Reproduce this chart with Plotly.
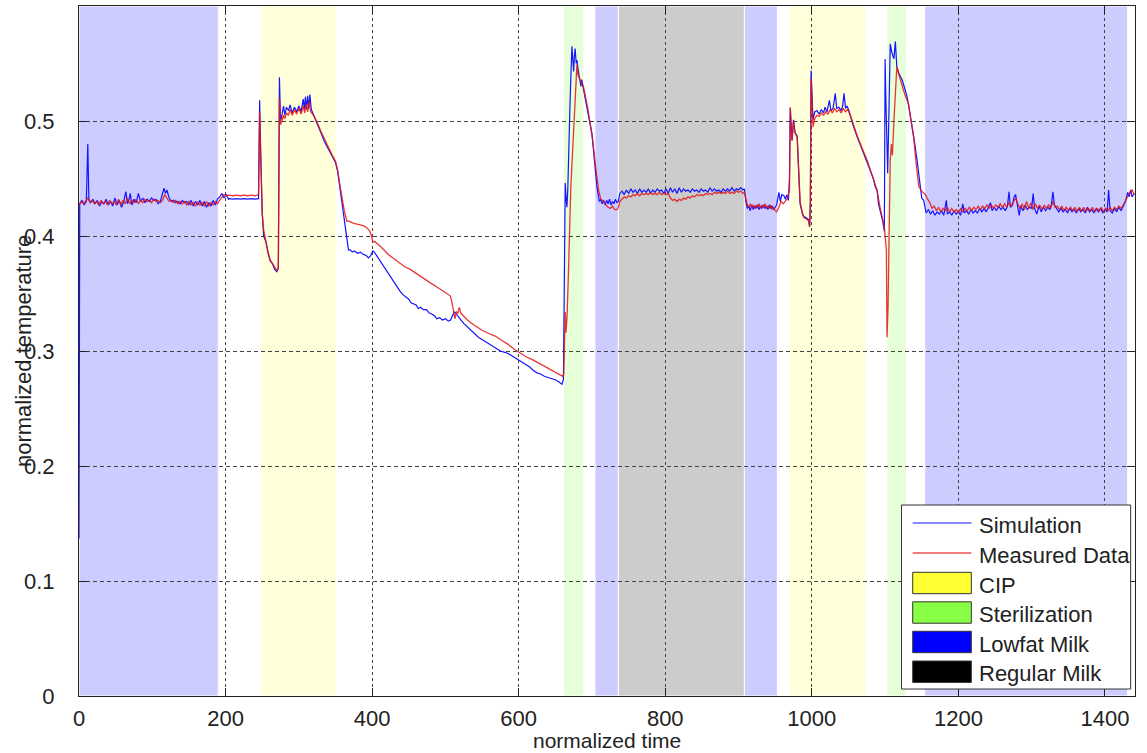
import plotly.graph_objects as go

# ---------------- data ----------------
sim_x = [0, 1, 4, 7, 10, 12, 13.5, 16, 19, 22, 25, 28, 31, 34, 37, 40, 43, 46, 49, 52, 55, 58, 61, 64, 66, 68, 70, 72, 75, 78, 81, 84, 87, 90, 93, 96, 99, 102, 105, 108, 111, 114, 116, 118, 120, 123, 126, 129, 132, 135, 138, 141, 144, 147, 150, 153, 156, 159, 162, 165, 168, 171, 174, 177, 180, 183, 186, 189, 192, 195, 198, 201, 204,
         205, 210, 215, 220, 225, 230, 235, 240, 245,
         246.5, 248, 250, 252, 255, 258, 261, 264, 267, 270, 272, 273.5, 275, 277, 279, 281, 283, 286, 288, 291, 294, 297, 300, 303, 306, 307.5, 309, 310.5, 312, 313.5, 315, 317, 320, 325, 330, 335, 340, 345, 350, 353, 356, 359, 362, 365, 367.7, 370, 373, 376, 380, 384, 388, 392, 395, 398, 401, 403, 407, 411, 415, 420, 425, 430, 435, 438, 442, 446, 450, 453, 456, 460, 463, 466, 470, 474, 478, 482, 486, 488, 492, 496, 500, 504, 507, 510, 512, 514, 516, 520, 525, 530, 535, 540, 545, 550, 555, 560, 565, 570, 575, 580, 585, 590, 595, 600, 605, 610, 615, 620, 625, 630, 635, 640, 645, 650, 655, 659,
         661, 662.5, 663.5, 665, 665.8, 667, 668, 669, 670.3, 671.5, 672.6, 674, 675, 676, 677, 678.5, 679.5, 681, 683, 685, 686, 688, 690, 693, 696, 700, 703, 706.7, 710, 712, 714, 716, 718, 720, 722, 724, 726, 728, 730, 732, 734, 736,
         738, 741, 744, 747, 750, 753, 756, 759, 762, 765, 768, 771, 774, 777, 780, 783, 786, 789, 792, 795, 798, 801, 804, 807, 810, 813, 816, 819, 822, 825, 828, 831, 834, 837, 840, 843, 846, 849, 852, 855, 858, 861, 864, 867, 870, 873, 876, 879, 882, 885, 888, 891, 894, 897, 900, 903, 906, 908,
         910, 912, 914, 916, 918, 920, 922, 924, 926, 928, 930, 932, 934, 936, 938, 940, 942, 944, 946, 948, 950, 952, 955, 957, 959, 962, 964, 966, 968,
         969.5, 970.6, 972, 973, 975, 977, 980, 982, 984, 987, 989, 992, 995.7, 997, 998, 999, 1000.5, 1001.6, 1004, 1007, 1010, 1013, 1016, 1018, 1020.7, 1022, 1024, 1026, 1029, 1032, 1034, 1037, 1040, 1042, 1044, 1046, 1048, 1050, 1053, 1057, 1062, 1067, 1072, 1075, 1080, 1084, 1087, 1089, 1091, 1093, 1095, 1097, 1099,
         1100, 1101, 1103.5, 1105, 1107, 1109, 1112, 1114, 1116, 1119, 1123, 1126, 1130, 1133, 1137, 1140, 1143.6, 1146, 1148, 1150, 1152.6, 1154, 1156, 1159,
         1162, 1165, 1168, 1171, 1174, 1177, 1180, 1183.6, 1185, 1188, 1191, 1194, 1197, 1200, 1203, 1206, 1208, 1211, 1214, 1217, 1220, 1223, 1226, 1229, 1232, 1235, 1238, 1241, 1243.7, 1246, 1249, 1252, 1255, 1258, 1261, 1264, 1267, 1269, 1271, 1274, 1276, 1278, 1280, 1283, 1285, 1288, 1291, 1294, 1297, 1300, 1302, 1304, 1307, 1310, 1313, 1316, 1319, 1322, 1325, 1327, 1329, 1331, 1334, 1337, 1340, 1343, 1346, 1349, 1352, 1355, 1358, 1361, 1364, 1367, 1370, 1373, 1376, 1379, 1382, 1385, 1388, 1391, 1394, 1397, 1400, 1403, 1405, 1407, 1410, 1413, 1416, 1419, 1422, 1425, 1428, 1431, 1433, 1435, 1437, 1440]
sim_y = [0.137, 0.428, 0.431, 0.427, 0.430, 0.480, 0.432, 0.429, 0.432, 0.428, 0.431, 0.426, 0.430, 0.428, 0.432, 0.427, 0.430, 0.426, 0.433, 0.427, 0.431, 0.425, 0.430, 0.4385, 0.428, 0.431, 0.437, 0.427, 0.432, 0.429, 0.437, 0.430, 0.433, 0.429, 0.432, 0.430, 0.433, 0.431, 0.432, 0.428, 0.430, 0.436, 0.4415, 0.437, 0.440, 0.433, 0.430, 0.431, 0.429, 0.430, 0.428, 0.431, 0.429, 0.430, 0.427, 0.431, 0.426, 0.430, 0.427, 0.431, 0.426, 0.430, 0.425, 0.429, 0.426, 0.431, 0.427, 0.432, 0.434, 0.437, 0.433, 0.436, 0.432,
         0.4325, 0.432, 0.4325, 0.432, 0.4325, 0.432, 0.4325, 0.432, 0.4325,
         0.518, 0.47, 0.42, 0.40, 0.395, 0.385, 0.378, 0.376, 0.371, 0.369, 0.372, 0.538, 0.50, 0.505, 0.513, 0.505, 0.512, 0.509, 0.514, 0.507, 0.512, 0.508, 0.513, 0.508, 0.519, 0.510, 0.521, 0.510, 0.522, 0.511, 0.523, 0.510, 0.505, 0.498, 0.490, 0.482, 0.476, 0.470, 0.464, 0.456, 0.443, 0.428, 0.416, 0.400, 0.388, 0.388, 0.386, 0.387, 0.385, 0.386, 0.384, 0.383, 0.381, 0.383, 0.387, 0.386, 0.382, 0.378, 0.374, 0.369, 0.364, 0.360, 0.355, 0.352, 0.349, 0.347, 0.345, 0.342, 0.341, 0.340, 0.337, 0.338, 0.336, 0.336, 0.333, 0.332, 0.330, 0.328, 0.329, 0.327, 0.328, 0.326, 0.327, 0.331, 0.334, 0.333, 0.331, 0.328, 0.324, 0.321, 0.318, 0.315, 0.312, 0.310, 0.308, 0.306, 0.304, 0.302, 0.300, 0.299, 0.298, 0.296, 0.294, 0.292, 0.290, 0.288, 0.286, 0.283, 0.281, 0.280, 0.278, 0.277, 0.276, 0.275, 0.273, 0.271,
         0.275, 0.40, 0.446, 0.43, 0.425, 0.44, 0.457, 0.49, 0.521, 0.55, 0.565, 0.552, 0.543, 0.557, 0.563, 0.550, 0.553, 0.545, 0.536, 0.530, 0.536, 0.528, 0.522, 0.512, 0.502, 0.489, 0.468, 0.443, 0.430, 0.432, 0.428, 0.431, 0.427, 0.431, 0.428, 0.432, 0.427, 0.430, 0.428, 0.432, 0.429, 0.430,
         0.437, 0.439, 0.436, 0.440, 0.437, 0.441, 0.438, 0.440, 0.437, 0.441, 0.438, 0.440, 0.438, 0.441, 0.437, 0.440, 0.438, 0.441, 0.439, 0.440, 0.437, 0.441, 0.437, 0.442, 0.438, 0.441, 0.437, 0.442, 0.438, 0.441, 0.439, 0.440, 0.438, 0.441, 0.439, 0.440, 0.438, 0.441, 0.439, 0.440, 0.438, 0.442, 0.439, 0.441, 0.439, 0.440, 0.438, 0.441, 0.439, 0.441, 0.439, 0.442, 0.439, 0.441, 0.440, 0.442, 0.440, 0.441,
         0.430, 0.424, 0.426, 0.422, 0.427, 0.423, 0.426, 0.424, 0.427, 0.423, 0.426, 0.424, 0.427, 0.424, 0.426, 0.423, 0.427, 0.424, 0.426, 0.423, 0.425, 0.427, 0.438, 0.430, 0.436, 0.435, 0.432, 0.436, 0.431,
         0.45, 0.511, 0.495, 0.483, 0.501, 0.490, 0.487, 0.46, 0.428, 0.420, 0.417, 0.416, 0.414, 0.408, 0.43, 0.544, 0.52, 0.501, 0.508, 0.509, 0.506, 0.510, 0.507, 0.512, 0.508, 0.512, 0.518, 0.509, 0.511, 0.524, 0.511, 0.512, 0.509, 0.513, 0.524, 0.511, 0.513, 0.510, 0.503, 0.495, 0.486, 0.478, 0.470, 0.466, 0.457, 0.450, 0.442, 0.44, 0.428, 0.423, 0.418, 0.412, 0.404,
         0.554, 0.52, 0.4545, 0.50, 0.567, 0.560, 0.554, 0.569, 0.547, 0.541, 0.536, 0.530, 0.521, 0.510, 0.495, 0.482, 0.466, 0.452, 0.440, 0.433, 0.431, 0.425, 0.420, 0.423,
         0.419, 0.422, 0.418, 0.421, 0.419, 0.422, 0.418, 0.431, 0.419, 0.421, 0.418, 0.422, 0.419, 0.421, 0.418, 0.428, 0.420, 0.422, 0.419, 0.423, 0.420, 0.422, 0.420, 0.424, 0.421, 0.424, 0.421, 0.425, 0.429, 0.422, 0.425, 0.422, 0.426, 0.423, 0.425, 0.422, 0.426, 0.4385, 0.425, 0.427, 0.434, 0.436, 0.428, 0.418, 0.426, 0.422, 0.427, 0.423, 0.425, 0.424, 0.437, 0.424, 0.419, 0.426, 0.421, 0.425, 0.422, 0.425, 0.423, 0.428, 0.4385, 0.427, 0.424, 0.421, 0.424, 0.421, 0.423, 0.420, 0.424, 0.421, 0.423, 0.420, 0.424, 0.421, 0.423, 0.420, 0.425, 0.421, 0.423, 0.420, 0.424, 0.421, 0.424, 0.420, 0.423, 0.421, 0.440, 0.422, 0.420, 0.424, 0.421, 0.425, 0.422, 0.426, 0.430, 0.438, 0.434, 0.440, 0.434, 0.437]

meas_x = [0, 3, 6, 9, 12, 15, 18, 21, 24, 27, 30, 33, 36, 39, 42, 45, 48, 51, 54, 57, 60, 63, 66, 69, 72, 75, 78, 81, 84, 87, 90, 93, 96, 99, 102, 105, 108, 111, 114, 117, 120, 123, 126, 129, 132, 135, 138, 141, 144, 147, 150, 153, 156, 159, 162, 165, 168, 171, 174, 177, 180, 183, 186, 189, 192, 195, 198, 201, 205, 210, 215, 220, 225, 230, 235, 240, 245,
          246.5, 248, 250, 252, 255, 258, 261, 264, 267, 270, 272, 273.5, 275, 277, 279, 281, 283, 286, 288, 291, 294, 297, 300, 303, 306, 308, 310, 312, 314, 316, 320, 325, 330, 335, 340, 345, 350, 353, 356.3, 359, 362, 365.4, 368, 375, 382, 388, 393, 397, 399, 401, 404, 407, 411, 416, 422, 428, 434, 438, 445, 452, 461, 470, 480, 490, 500, 506.5, 508, 510, 511, 513, 515, 517, 519, 521, 525, 530, 538, 545, 550, 560, 568, 575, 585, 593, 600.7, 610, 620, 629, 640, 650, 660,
          661.5, 663, 663.5, 664.5, 666, 668, 669.5, 671, 672.5, 674, 675.5, 677, 678.5, 679.5, 681, 684, 686, 688, 690, 694, 697, 701, 705, 709, 712, 716, 719, 722, 725, 728, 731, 734, 736,
          738, 741, 744, 747, 750, 753, 756, 759, 762, 765, 768, 771, 774, 777, 780, 783, 786, 789, 792, 795, 798, 801, 804, 807, 810, 813, 816, 819, 822, 825, 828, 831, 834, 837, 840, 843, 846, 849, 852, 855, 858, 861, 864, 867, 870, 873, 876, 879, 882, 885, 888, 891, 894, 897, 900, 903, 906, 908,
          910, 912, 914, 916, 918, 920, 922, 924, 926, 928, 930, 932, 934, 936, 938, 940, 942, 944, 946, 948, 950, 952, 955, 958, 961, 964, 967,
          969.5, 970.6, 972, 973, 975, 977, 980, 982, 984, 987, 989, 992, 995.7, 997, 998, 999, 1000.5, 1001.6, 1004, 1007, 1010, 1013, 1016, 1019, 1022, 1025, 1028, 1031, 1034, 1037, 1040, 1043, 1046, 1049, 1052, 1057, 1062, 1067, 1072, 1076, 1080, 1084, 1089, 1093, 1097, 1099,
          1101.7, 1102.6, 1104, 1105.5, 1107, 1108.5, 1110, 1112, 1114, 1116, 1118, 1120, 1125, 1128, 1132, 1135, 1139, 1142, 1146, 1150, 1152.6, 1155, 1158, 1161, 1164, 1167, 1170,
          1173, 1176, 1179, 1182, 1185, 1188, 1191, 1194, 1197, 1200, 1203, 1206, 1209, 1212, 1215, 1218, 1221, 1224, 1227, 1230, 1233, 1236, 1239, 1242, 1245, 1248, 1251, 1254, 1257, 1260, 1263, 1266, 1269, 1272, 1275, 1278, 1281, 1284, 1287, 1290, 1293, 1296, 1299, 1302, 1305, 1308, 1311, 1314, 1317, 1320, 1323, 1326, 1329, 1332, 1335, 1338, 1341, 1344, 1347, 1350, 1353, 1356, 1359, 1362, 1365, 1368, 1371, 1374, 1377, 1380, 1383, 1386, 1389, 1392, 1395, 1398, 1401, 1404, 1407, 1410, 1413, 1416, 1419, 1422, 1425, 1428, 1431, 1434, 1437, 1440]
meas_y = [0.427, 0.430, 0.428, 0.431, 0.433, 0.429, 0.431, 0.428, 0.430, 0.427, 0.431, 0.428, 0.430, 0.427, 0.431, 0.428, 0.430, 0.427, 0.432, 0.427, 0.431, 0.428, 0.433, 0.428, 0.431, 0.429, 0.432, 0.428, 0.431, 0.429, 0.432, 0.430, 0.431, 0.429, 0.432, 0.430, 0.431, 0.429, 0.431, 0.436, 0.433, 0.430, 0.431, 0.429, 0.431, 0.428, 0.430, 0.428, 0.430, 0.427, 0.430, 0.427, 0.429, 0.426, 0.430, 0.427, 0.429, 0.426, 0.430, 0.426, 0.429, 0.427, 0.430, 0.428, 0.431, 0.434, 0.436, 0.435, 0.4355, 0.435, 0.4355, 0.435, 0.4355, 0.435, 0.4355, 0.435, 0.436,
          0.508, 0.46, 0.42, 0.405, 0.395, 0.386, 0.379, 0.376, 0.372, 0.370, 0.372, 0.52, 0.497, 0.500, 0.505, 0.502, 0.507, 0.505, 0.510, 0.505, 0.510, 0.506, 0.511, 0.506, 0.513, 0.507, 0.515, 0.508, 0.517, 0.508, 0.505, 0.499, 0.491, 0.484, 0.478, 0.471, 0.465, 0.457, 0.443, 0.432, 0.422, 0.413, 0.413, 0.411, 0.410, 0.409, 0.407, 0.404, 0.400, 0.395, 0.395, 0.393, 0.391, 0.388, 0.384, 0.381, 0.378, 0.376, 0.373, 0.371, 0.367, 0.363, 0.359, 0.355, 0.351, 0.348, 0.345, 0.340, 0.335, 0.328, 0.334, 0.333, 0.338, 0.333, 0.330, 0.327, 0.323, 0.320, 0.318, 0.315, 0.313, 0.310, 0.306, 0.302, 0.299, 0.295, 0.292, 0.289, 0.285, 0.282, 0.278,
          0.28, 0.32, 0.334, 0.316, 0.330, 0.370, 0.41, 0.44, 0.46, 0.480, 0.50, 0.521, 0.54, 0.549, 0.540, 0.534, 0.532, 0.531, 0.525, 0.512, 0.500, 0.483, 0.460, 0.440, 0.432, 0.430, 0.427, 0.425, 0.424, 0.426, 0.423, 0.423, 0.425,
          0.430, 0.432, 0.434, 0.433, 0.435, 0.434, 0.436, 0.435, 0.437, 0.435, 0.437, 0.436, 0.437, 0.436, 0.438, 0.436, 0.437, 0.436, 0.438, 0.436, 0.437, 0.436, 0.437, 0.433, 0.431, 0.432, 0.430, 0.432, 0.431, 0.433, 0.432, 0.434, 0.433, 0.435, 0.434, 0.436, 0.435, 0.436, 0.435, 0.437, 0.436, 0.437, 0.436, 0.438, 0.437, 0.438, 0.437, 0.438, 0.437, 0.439, 0.437, 0.438, 0.437, 0.439, 0.438, 0.439, 0.437, 0.438,
          0.431, 0.427, 0.425, 0.428, 0.425, 0.427, 0.424, 0.427, 0.425, 0.428, 0.424, 0.427, 0.425, 0.428, 0.424, 0.426, 0.424, 0.427, 0.423, 0.425, 0.422, 0.421, 0.425, 0.430, 0.428, 0.431, 0.433,
          0.44, 0.512, 0.49, 0.483, 0.50, 0.49, 0.486, 0.46, 0.43, 0.420, 0.416, 0.415, 0.413, 0.408, 0.43, 0.537, 0.51, 0.495, 0.502, 0.505, 0.504, 0.507, 0.505, 0.508, 0.506, 0.510, 0.507, 0.511, 0.508, 0.510, 0.507, 0.511, 0.508, 0.510, 0.506, 0.496, 0.487, 0.479, 0.472, 0.465, 0.457, 0.450, 0.440, 0.425, 0.414, 0.408,
          0.388, 0.312, 0.338, 0.40, 0.466, 0.48, 0.47, 0.50, 0.53, 0.547, 0.542, 0.537, 0.527, 0.521, 0.515, 0.502, 0.486, 0.465, 0.443, 0.439, 0.437, 0.436, 0.432, 0.429, 0.424, 0.426, 0.422,
          0.425, 0.421, 0.424, 0.422, 0.425, 0.421, 0.424, 0.421, 0.423, 0.420, 0.424, 0.421, 0.424, 0.422, 0.425, 0.422, 0.425, 0.423, 0.426, 0.423, 0.426, 0.424, 0.427, 0.424, 0.427, 0.424, 0.427, 0.425, 0.428, 0.425, 0.428, 0.425, 0.429, 0.426, 0.430, 0.433, 0.428, 0.424, 0.428, 0.423, 0.430, 0.424, 0.429, 0.423, 0.428, 0.424, 0.427, 0.423, 0.427, 0.424, 0.427, 0.424, 0.430, 0.425, 0.426, 0.423, 0.426, 0.422, 0.425, 0.422, 0.425, 0.422, 0.425, 0.421, 0.425, 0.422, 0.425, 0.421, 0.424, 0.422, 0.425, 0.421, 0.424, 0.422, 0.425, 0.421, 0.424, 0.422, 0.425, 0.422, 0.425, 0.423, 0.426, 0.424, 0.427, 0.431, 0.435, 0.438, 0.440, 0.436]

region_start = [0, 247, 661, 704, 736, 908, 969, 1102, 1154]
region_end = [190, 351, 689, 736, 908, 953, 1074, 1129, 1431]
region_kind = ["Lowfat Milk", "CIP", "Sterilization", "Lowfat Milk", "Regular Milk",
               "Lowfat Milk", "CIP", "Sterilization", "Lowfat Milk"]

x_ticks = [0, 200, 400, 600, 800, 1000, 1200, 1400]
y_ticks = [0, 0.1, 0.2, 0.3, 0.4, 0.5]
y_tick_text = ["0", "0.1", "0.2", "0.3", "0.4", "0.5"]

series_names = ["Simulation", "Measured Data"]
phase_names = ["CIP", "Sterilization", "Lowfat Milk", "Regular Milk"]
x_title = "normalized time"
y_title = "normalized temperature"

# ---------------- styles ----------------
FONT = "Liberation Sans"
FS = 22
TXT = "#222222"
region_fill = {"CIP": "#ffffd9", "Sterilization": "#e6ffd9",
               "Lowfat Milk": "#ccccff", "Regular Milk": "#cccccc"}
swatch_fill = {"CIP": "#ffff33", "Sterilization": "#88ff44",
               "Lowfat Milk": "#0000ff", "Regular Milk": "#000000"}
line_color = {"Simulation": "rgb(20,20,255)", "Measured Data": "rgba(228,20,20,0.85)"}
legend_line_color = {"Simulation": "#6060ff", "Measured Data": "#ee5050"}

fig = go.Figure()
fig.add_trace(go.Scatter(x=sim_x, y=sim_y, mode="lines", name=series_names[0],
                         line=dict(color=line_color["Simulation"], width=1.2), showlegend=False))
fig.add_trace(go.Scatter(x=meas_x, y=meas_y, mode="lines", name=series_names[1],
                         line=dict(color=line_color["Measured Data"], width=1.3), showlegend=False))

shapes = []
for s, e, k in zip(region_start, region_end, region_kind):
    shapes.append(dict(type="rect", xref="x", yref="paper", x0=s, x1=e, y0=0, y1=1,
                       fillcolor=region_fill[k], line=dict(color="white", width=1), layer="below"))

# manual legend (paper coords)
lx0, lx1, ly0, ly1 = 0.7789, 0.9959, 0.0101, 0.2768
shapes.append(dict(type="rect", xref="paper", yref="paper", x0=lx0, x1=lx1, y0=ly0, y1=ly1,
                   fillcolor="white", line=dict(color="#333333", width=1), layer="above"))
row_y = [0.2507, 0.2072, 0.1638, 0.1210, 0.0783, 0.0352]
sw_x0, sw_x1, sw_h = 0.7895, 0.8450, 0.0310
annotations = []
for i, nm in enumerate(series_names):
    shapes.append(dict(type="line", xref="paper", yref="paper", x0=sw_x0, x1=sw_x1,
                       y0=row_y[i], y1=row_y[i], line=dict(color=legend_line_color[nm], width=1.5),
                       layer="above"))
for j, nm in enumerate(phase_names):
    yc = row_y[j + 2]
    shapes.append(dict(type="rect", xref="paper", yref="paper", x0=sw_x0, x1=sw_x1,
                       y0=yc - sw_h / 2, y1=yc + sw_h / 2, fillcolor=swatch_fill[nm],
                       line=dict(color="#333333", width=1), layer="above"))
for i, nm in enumerate(series_names + phase_names):
    annotations.append(dict(xref="paper", yref="paper", x=0.8505, y=row_y[i] - 0.003,
                            text=nm, showarrow=False, xanchor="left", yanchor="middle",
                            font=dict(family=FONT, size=FS, color=TXT)))

annotations.append(dict(xref="paper", yref="paper", x=-0.0530, y=0.5, text=y_title,
                        textangle=-90, showarrow=False, xanchor="center", yanchor="middle",
                        font=dict(family=FONT, size=FS, color=TXT)))
annotations.append(dict(xref="paper", yref="paper", x=0.5, y=-0.0826, text=x_title,
                        showarrow=False, xanchor="center", yanchor="bottom", borderpad=0,
                        font=dict(family=FONT, size=21, color=TXT)))

fig.update_layout(
    width=1147, height=753,
    margin=dict(l=79, r=12, t=6, b=57, autoexpand=False),
    paper_bgcolor="white", plot_bgcolor="white",
    shapes=shapes, annotations=annotations, showlegend=False,
    font=dict(family=FONT, size=FS, color=TXT),
)
fig.update_xaxes(range=[0, 1441], tickvals=x_ticks, ticks="inside", ticklen=8, tickcolor="#222",
                 showline=True, linecolor="#222", linewidth=1, mirror="ticks",
                 showgrid=True, gridcolor="#444", gridwidth=1, griddash="3px,3px",
                 zeroline=False, ticklabelstandoff=3,
                 tickfont=dict(family=FONT, size=FS, color=TXT))
fig.update_yaxes(range=[0, 0.6], tickvals=y_ticks, ticktext=y_tick_text, ticks="inside", ticklen=8,
                 tickcolor="#222", showline=True, linecolor="#222", linewidth=1, mirror="ticks",
                 showgrid=True, gridcolor="#444", gridwidth=1, griddash="4px,3px",
                 zeroline=False, ticklabelstandoff=19,
                 tickfont=dict(family=FONT, size=FS, color=TXT))

fig.write_html("out.html", config={"displayModeBar": False},
               post_script="document.body.style.margin='0';")
